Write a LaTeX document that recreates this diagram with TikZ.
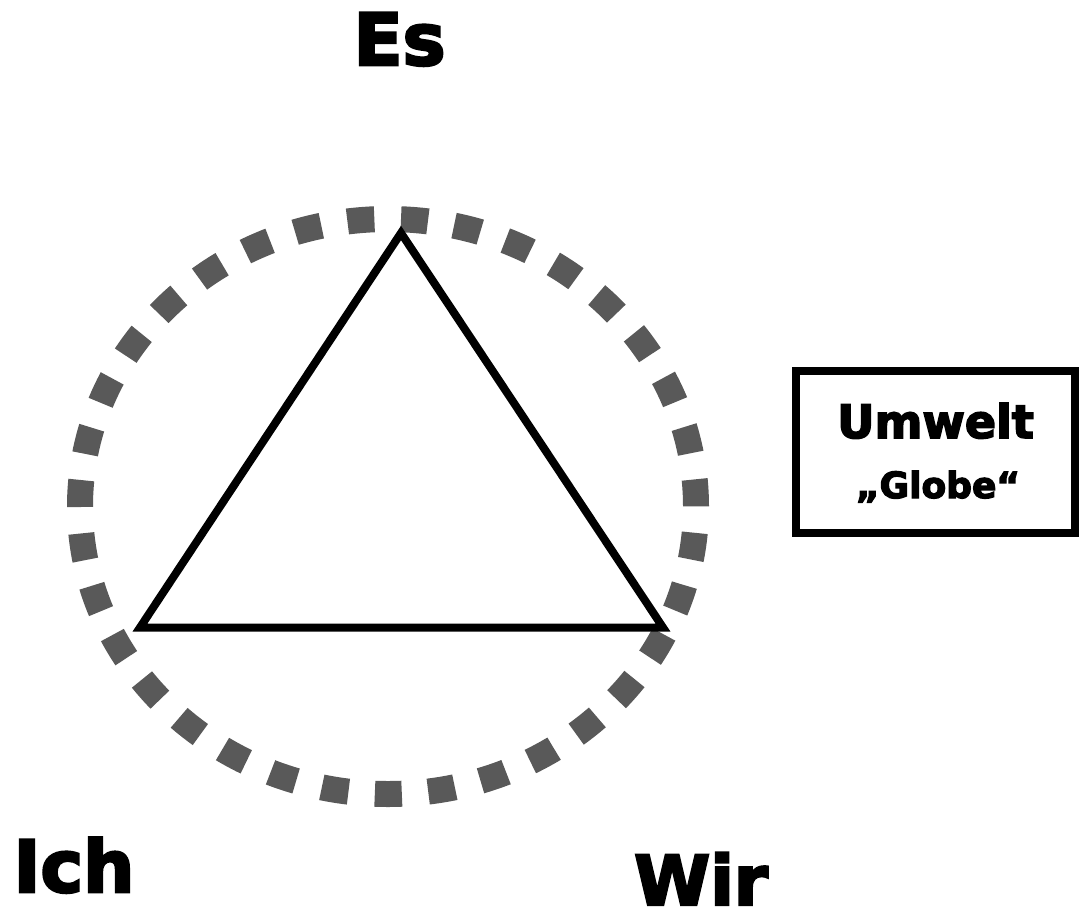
\documentclass[tikz,border=0pt]{standalone}
\usepackage{fontspec}
\newfontfamily\heavyfont{DejaVu Sans Bold}[FakeBold=3.5]
\definecolor{ringgray}{RGB}{89,89,89}
\tikzset{
  ring/.style={draw=ringgray, line width=26pt, dash pattern=on 27pt off 26.47pt, dash phase=40.47pt},
  tri/.style={draw=black, line width=8pt, line join=miter},
  framebox/.style={draw=black, line width=7.5pt, minimum width=279pt, minimum height=162pt, inner sep=0pt},
  biglabel/.style={inner sep=0pt, anchor=base, font=\heavyfont\fontsize{71}{71}\selectfont},
}
\begin{document}
\begin{tikzpicture}[x=1pt, y=-1pt]
  \useasboundingbox (0,0) rectangle (1081,910);
  % dashed ring, starting at its top point and running clockwise
  \coordinate (ringtop) at (388,219);
  \draw[ring] (ringtop) arc[start angle=-90, end angle=270, x radius=308, y radius=287.5];
  % triangle
  \coordinate (apex) at (401,233);
  \coordinate (left) at (140,627.5);
  \coordinate (right) at (663,627.5);
  \draw[tri] (apex) -- (right) -- (left) -- cycle;
  % corner labels
  \node[biglabel, font=\heavyfont\fontsize{72}{72}\selectfont] (es) at (399.5,65) {Es};
  \node[biglabel, font=\heavyfont\fontsize{72}{72}\selectfont] (ich) at (74,892) {Ich};
  \node[biglabel, font=\heavyfont\fontsize{69}{69}\selectfont] (wir) at (701,905) {Wir};
  % environment box
  \node[framebox] (umwelt) at (935.5,452) {};
  \node[inner sep=0pt, anchor=base, font=\heavyfont\fontsize{46}{46}\selectfont] (umwelttext) at (935.5,438) {Umwelt};
  \node[inner sep=0pt, anchor=base, font=\heavyfont\fontsize{36}{36}\selectfont] (globe) at (938,498) {„Globe“};
\end{tikzpicture}
\end{document}
